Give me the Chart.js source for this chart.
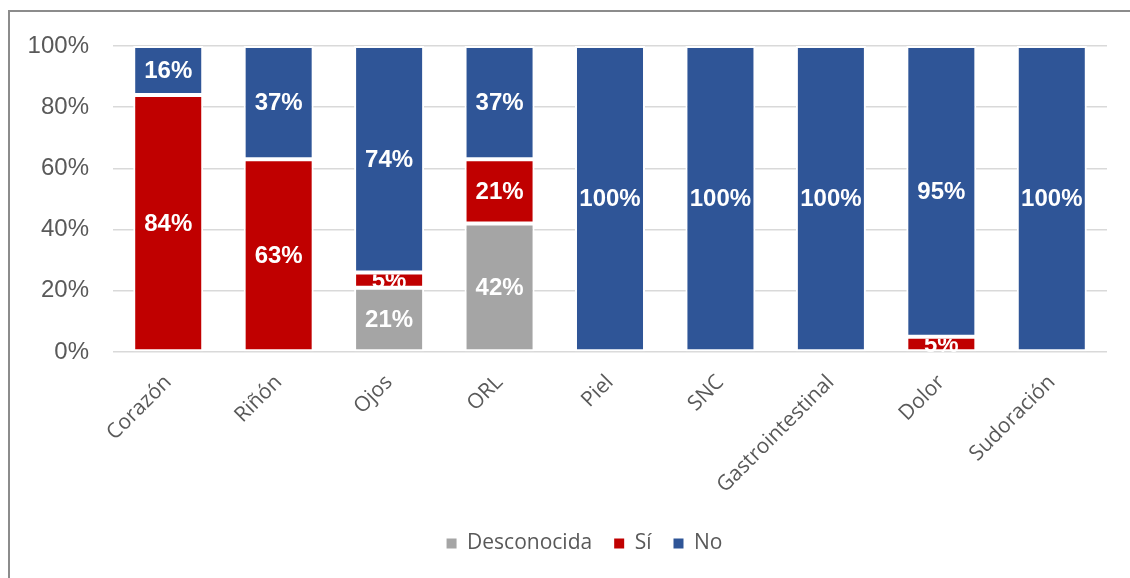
<!DOCTYPE html>
<html>
<head>
<meta charset="utf-8">
<script src="https://cdn.jsdelivr.net/npm/chart.js@4/dist/chart.umd.min.js"></script>
<style>
    html, body { margin: 0; padding: 0; background: #fff; }
    #wrap { position: relative; width: 1130px; height: 578px; overflow: hidden; }
    #frame {
        position: absolute; left: 8px; top: 10px; width: 1200px; height: 700px;
        border-left: 2px solid #8c8c8c; border-top: 2px solid #8c8c8c;
    }
    #chart { position: absolute; left: 0; top: 0; }
</style>
</head>
<body>
<div id="wrap">
    <div id="frame"></div>
    <canvas id="chart" width="1130" height="578"></canvas>
</div>
<script>
const categories = ['Corazón', 'Riñón', 'Ojos', 'ORL', 'Piel', 'SNC', 'Gastrointestinal', 'Dolor', 'Sudoración'];
const desconocida = [0, 0, 21, 42, 0, 0, 0, 0, 0];
const si = [84, 63, 5, 21, 0, 0, 0, 5, 0];
const no = [16, 37, 74, 37, 100, 100, 100, 95, 100];
const yTicks = [0, 20, 40, 60, 80, 100];

const textGrey = '#595959';
const gridGrey = '#d9d9d9';
const BORDER = 2;

// value labels inside each segment, clipped at the segment's top edge
const segmentLabels = {
    id: 'segmentLabels',
    afterDatasetsDraw(chart) {
        const ctx = chart.ctx;
        const area = chart.chartArea;
        chart.data.datasets.forEach((ds, i) => {
            const meta = chart.getDatasetMeta(i);
            meta.data.forEach((bar, j) => {
                const v = ds.data[j];
                if (!v) return;
                ctx.save();
                ctx.beginPath();
                ctx.rect(area.left, bar.y + BORDER, area.right - area.left, 600);
                ctx.clip();
                ctx.fillStyle = '#fff';
                ctx.font = 'bold 24px "Liberation Sans", Arial, sans-serif';
                ctx.textAlign = 'center';
                ctx.textBaseline = 'middle';
                ctx.fillText(v + '%', bar.x, (bar.y + bar.base) / 2 + 1);
                ctx.restore();
            });
        });
    }
};

// centre the legend on the whole canvas rather than the padded box
const legendShift = {
    id: 'legendShift',
    afterLayout(chart) {
        chart.legend.left += 31;
        chart.legend.right += 31;
    }
};

new Chart(document.getElementById('chart'), {
    type: 'bar',
    data: {
        labels: categories,
        datasets: [
            { label: 'Desconocida', data: desconocida, backgroundColor: '#a5a5a5' },
            { label: 'Sí', data: si, backgroundColor: '#c00000' },
            { label: 'No', data: no, backgroundColor: '#2f5597' }
        ].map(ds => Object.assign(ds, {
            borderColor: '#ffffff',
            borderWidth: BORDER,
            borderSkipped: false,
            barPercentage: 0.634,
            categoryPercentage: 1
        }))
    },
    options: {
        responsive: false,
        animation: false,
        events: [],
        layout: { padding: { top: 46, right: 23, bottom: 14, left: 0 } },
        scales: {
            x: {
                stacked: true,
                grid: { display: false },
                border: { display: false },
                ticks: {
                    color: textGrey,
                    font: { family: '"Open Sans", sans-serif', size: 21 },
                    minRotation: 45,
                    maxRotation: 45,
                    padding: 10
                },
                afterFit(scale) { scale.height = 159; }
            },
            y: {
                stacked: true,
                min: 0,
                max: 100,
                afterBuildTicks(scale) { scale.ticks = yTicks.map(v => ({ value: v })); },
                grid: { color: gridGrey, lineWidth: 1.5, drawTicks: false },
                border: { display: false },
                ticks: {
                    color: textGrey,
                    font: { family: '"Liberation Sans", Arial, sans-serif', size: 24 },
                    padding: 24,
                    callback: v => v + '%'
                },
                afterFit(scale) { scale.width = 113; }
            }
        },
        plugins: {
            tooltip: { enabled: false },
            legend: {
                position: 'bottom',
                labels: {
                    color: textGrey,
                    font: { family: '"Open Sans", sans-serif', size: 21 },
                    boxWidth: 10,
                    boxHeight: 10,
                    padding: 22,
                    generateLabels(chart) {
                        return Chart.defaults.plugins.legend.labels.generateLabels(chart)
                            .map(item => Object.assign(item, { lineWidth: 0, strokeStyle: 'rgba(0,0,0,0)' }));
                    }
                }
            }
        }
    },
    plugins: [segmentLabels, legendShift]
});
</script>
</body>
</html>
